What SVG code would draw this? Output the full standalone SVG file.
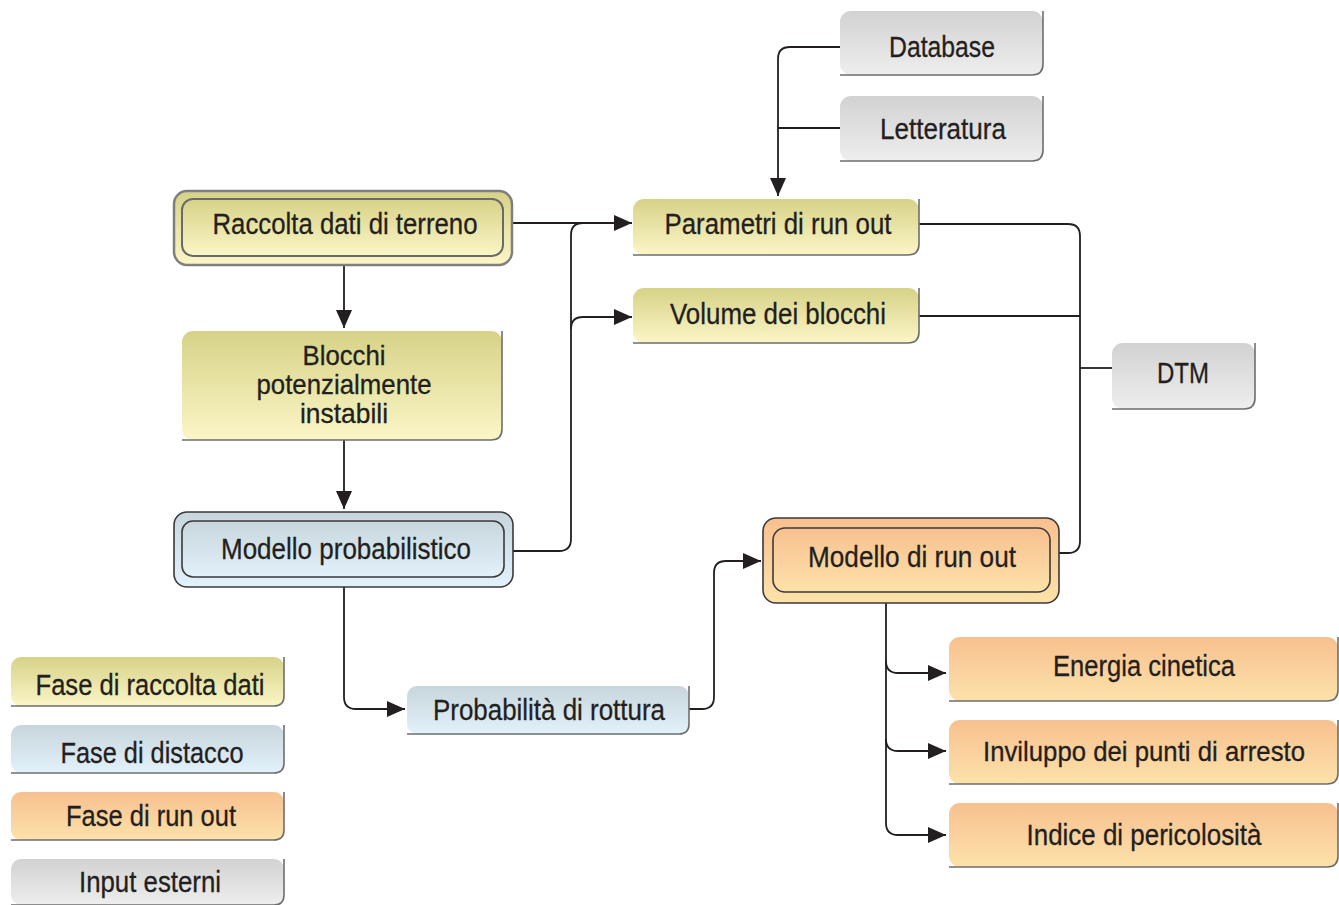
<svg xmlns="http://www.w3.org/2000/svg" width="1339" height="905" viewBox="0 0 1339 905">
<defs>
<linearGradient id="gY" x1="0" y1="0" x2="0" y2="1"><stop offset="0" stop-color="#d7d287"/><stop offset="1" stop-color="#fbf6c6"/></linearGradient>
<linearGradient id="gB" x1="0" y1="0" x2="0" y2="1"><stop offset="0" stop-color="#c8d5dd"/><stop offset="1" stop-color="#e2f2fa"/></linearGradient>
<linearGradient id="gO" x1="0" y1="0" x2="0" y2="1"><stop offset="0" stop-color="#f7c08f"/><stop offset="1" stop-color="#fde2aa"/></linearGradient>
<linearGradient id="gG" x1="0" y1="0" x2="0" y2="1"><stop offset="0" stop-color="#d2d2d2"/><stop offset="1" stop-color="#eeeeee"/></linearGradient>
<marker id="arr" viewBox="0 0 18 16" refX="18" refY="8" markerWidth="18" markerHeight="16" markerUnits="userSpaceOnUse" orient="auto"><path d="M0,0 L18,8 L0,16 Z" fill="#231f20"/></marker>
</defs>
<style>
.t{font-family:"Liberation Sans",Arial,sans-serif;font-size:30px;fill:#231f20;stroke:#231f20;stroke-width:0.3;text-anchor:middle}
.tb{font-size:28px}
.sh{fill:none;stroke:#6e6e6e;stroke-width:1.6}
.c{fill:none;stroke:#231f20;stroke-width:1.8}
.ca{fill:none;stroke:#231f20;stroke-width:1.8;marker-end:url(#arr)}
</style>
<g id="connectors">
<path class="c" d="M840,47 H790 Q778,47 778,59 V128"/>
<path class="c" d="M840,128 H778"/>
<path class="ca" d="M778,128 V196"/>
<path class="ca" d="M512,223 H632"/>
<path class="c" d="M513,551 H559 Q571,551 571,539 V235 Q571,223 583,223"/>
<path class="ca" d="M571,329 Q571,317 583,317 H632"/>
<path class="ca" d="M344,265 V328"/>
<path class="ca" d="M344,440 V509"/>
<path class="ca" d="M344,587 V697 Q344,709 356,709 H405"/>
<path class="ca" d="M689,709 H702 Q714,709 714,697 V573 Q714,561 726,561 H761"/>
<path class="c" d="M919,224 H1068 Q1080,224 1080,236 V541 Q1080,553 1068,553 H1059"/>
<path class="c" d="M919,316 H1080"/>
<path class="c" d="M1112,368 H1080"/>
<path class="c" d="M886,603 V823 Q886,835 898,835"/>
<path class="ca" d="M886,661 Q886,673 898,673 H946"/>
<path class="ca" d="M886,739 Q886,751 898,751 H946"/>
<path class="ca" d="M898,835 H946"/>
</g>
<g id="database">
<rect x="840" y="11" width="203" height="64" rx="11" fill="url(#gG)"/>
<path class="sh" d="M1043,11 V64 Q1043,75 1032,75 H840"/>
<text class="t" x="942" y="57" textLength="106" lengthAdjust="spacingAndGlyphs">Database</text>
</g>
<g id="letteratura">
<rect x="840" y="96" width="203" height="65" rx="11" fill="url(#gG)"/>
<path class="sh" d="M1043,96 V150 Q1043,161 1032,161 H840"/>
<text class="t" x="943" y="139" textLength="126" lengthAdjust="spacingAndGlyphs">Letteratura</text>
</g>
<g id="raccolta">
<rect x="174" y="191" width="338" height="74" rx="13" fill="url(#gY)" stroke="#7f7f7f" stroke-width="2.5"/>
<rect x="182" y="199" width="321" height="57" rx="11" fill="url(#gY)" stroke="#6a6a6a" stroke-width="2"/>
<text class="t" x="345" y="234" textLength="265" lengthAdjust="spacingAndGlyphs">Raccolta dati di terreno</text>
</g>
<g id="parametri">
<rect x="633" y="199" width="286" height="56" rx="11" fill="url(#gY)"/>
<path class="sh" d="M919,199 V244 Q919,255 908,255 H633"/>
<text class="t" x="778" y="234" textLength="227" lengthAdjust="spacingAndGlyphs">Parametri di run out</text>
</g>
<g id="volume">
<rect x="633" y="288" width="286" height="55" rx="11" fill="url(#gY)"/>
<path class="sh" d="M919,288 V332 Q919,343 908,343 H633"/>
<text class="t" x="778" y="324" textLength="216" lengthAdjust="spacingAndGlyphs">Volume dei blocchi</text>
</g>
<g id="dtm">
<rect x="1112" y="343" width="143" height="66" rx="11" fill="url(#gG)"/>
<path class="sh" d="M1255,343 V398 Q1255,409 1244,409 H1112"/>
<text class="t" x="1183" y="383" textLength="52" lengthAdjust="spacingAndGlyphs">DTM</text>
</g>
<g id="blocchi">
<rect x="182" y="331" width="320" height="109" rx="11" fill="url(#gY)"/>
<path class="sh" d="M502,331 V429 Q502,440 491,440 H182"/>
<text class="t tb" x="344" y="365" textLength="83" lengthAdjust="spacingAndGlyphs">Blocchi</text>
<text class="t tb" x="344" y="394" textLength="175" lengthAdjust="spacingAndGlyphs">potenzialmente</text>
<text class="t tb" x="344" y="423" textLength="88" lengthAdjust="spacingAndGlyphs">instabili</text>
</g>
<g id="modello-probabilistico">
<rect x="174" y="512" width="339" height="75" rx="13" fill="url(#gB)" stroke="#3a3a3a" stroke-width="1.6"/>
<rect x="182" y="521" width="322" height="56" rx="11" fill="url(#gB)" stroke="#3a3a3a" stroke-width="1.6"/>
<text class="t" x="346" y="559" textLength="250" lengthAdjust="spacingAndGlyphs">Modello probabilistico</text>
</g>
<g id="modello-run-out">
<rect x="763" y="518" width="296" height="85" rx="13" fill="url(#gO)" stroke="#3a3a3a" stroke-width="1.6"/>
<rect x="773" y="528" width="277" height="64" rx="12" fill="url(#gO)" stroke="#3a3a3a" stroke-width="1.6"/>
<text class="t" x="912" y="567" textLength="208" lengthAdjust="spacingAndGlyphs">Modello di run out</text>
</g>
<g id="probabilita">
<rect x="407" y="686" width="282" height="48" rx="10" fill="url(#gB)"/>
<path class="sh" d="M689,686 V724 Q689,734 679,734 H407"/>
<text class="t" x="549" y="720" textLength="232" lengthAdjust="spacingAndGlyphs">Probabilità di rottura</text>
</g>
<g id="energia">
<rect x="949" y="637" width="389" height="64" rx="11" fill="url(#gO)"/>
<path class="sh" d="M1338,637 V690 Q1338,701 1327,701 H949"/>
<text class="t" x="1144" y="676" textLength="182" lengthAdjust="spacingAndGlyphs">Energia cinetica</text>
</g>
<g id="inviluppo">
<rect x="949" y="720" width="389" height="64" rx="11" fill="url(#gO)"/>
<path class="sh" d="M1338,720 V773 Q1338,784 1327,784 H949"/>
<text class="t tb" x="1144" y="761" textLength="322" lengthAdjust="spacingAndGlyphs">Inviluppo dei punti di arresto</text>
</g>
<g id="indice">
<rect x="949" y="803" width="389" height="64" rx="11" fill="url(#gO)"/>
<path class="sh" d="M1338,803 V856 Q1338,867 1327,867 H949"/>
<text class="t" x="1144" y="845" textLength="235" lengthAdjust="spacingAndGlyphs">Indice di pericolosità</text>
</g>
<g id="legend-raccolta">
<rect x="11" y="657" width="273" height="49" rx="10" fill="url(#gY)"/>
<path class="sh" d="M284,657 V696 Q284,706 274,706 H11"/>
<text class="t" x="150" y="695" textLength="229" lengthAdjust="spacingAndGlyphs">Fase di raccolta dati</text>
</g>
<g id="legend-distacco">
<rect x="11" y="725" width="273" height="48" rx="10" fill="url(#gB)"/>
<path class="sh" d="M284,725 V763 Q284,773 274,773 H11"/>
<text class="t" x="152" y="763" textLength="183" lengthAdjust="spacingAndGlyphs">Fase di distacco</text>
</g>
<g id="legend-runout">
<rect x="11" y="792" width="273" height="48" rx="10" fill="url(#gO)"/>
<path class="sh" d="M284,792 V830 Q284,840 274,840 H11"/>
<text class="t" x="151" y="826" textLength="170" lengthAdjust="spacingAndGlyphs">Fase di run out</text>
</g>
<g id="legend-input">
<rect x="11" y="859" width="273" height="46" rx="10" fill="url(#gG)"/>
<path class="sh" d="M284,859 V895 Q284,905 274,905 H11"/>
<text class="t" x="150" y="892" textLength="142" lengthAdjust="spacingAndGlyphs">Input esterni</text>
</g>
</svg>
